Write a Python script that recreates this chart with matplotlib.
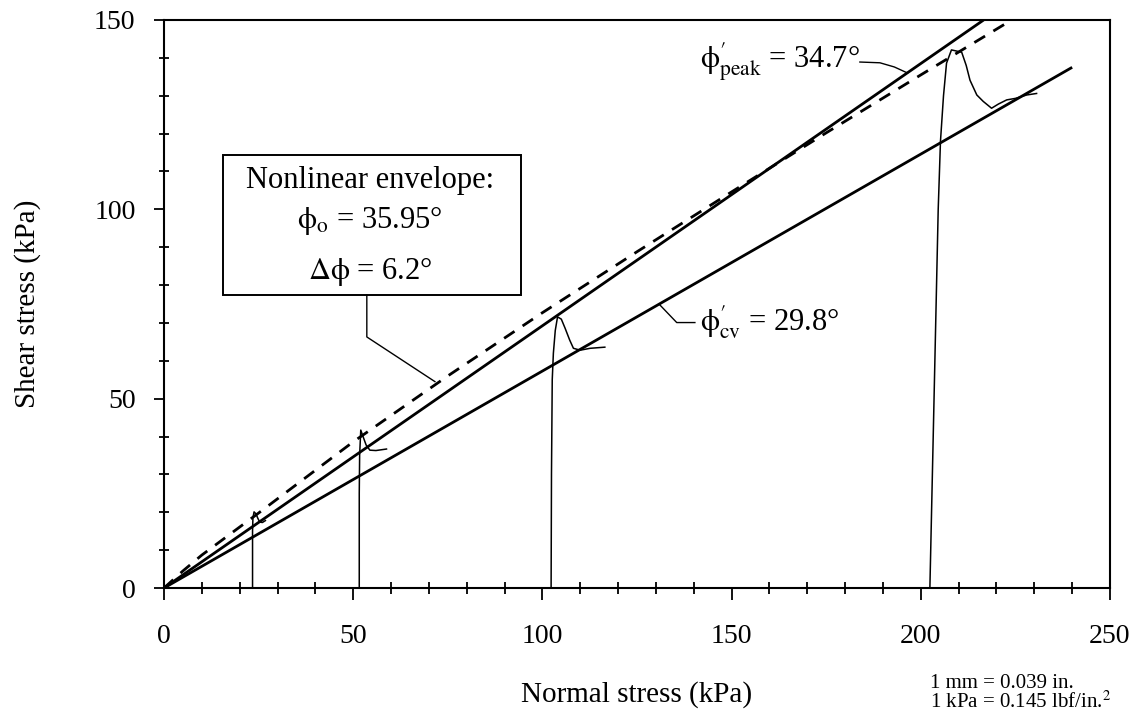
import matplotlib.pyplot as plt
import matplotlib.patches as mpatches
from matplotlib.ticker import MultipleLocator

plt.rcParams['font.family'] = ['Liberation Serif', 'DejaVu Serif']
plt.rcParams['mathtext.fontset'] = 'stix'

# envelopes (normal stress, shear stress) in kPa
peak_sigma = [0, 216.6]
peak_tau = [0, 150]
cv_sigma = [0, 240]
cv_tau = [0, 137.5]
nonlin_sigma = [0, 5, 10, 25, 50, 75, 100, 125, 150, 175, 200, 224.5]
nonlin_tau = [0, 4.5, 8.7, 19.8, 38.6, 56.0, 72.7, 88.8, 104.6, 120.2, 135.5, 150.3]

# stress paths of the four tests
test1_sigma = [23.4, 23.4, 23.5, 23.8, 24.3, 24.8, 25.3, 26.0, 26.8]
test1_tau = [0, 15, 18.5, 20.1, 19.6, 18.4, 17.4, 17.3, 17.8]
test2_sigma = [51.6, 51.6, 51.7, 52.0, 52.6, 53.4, 54.4, 56.0, 58.8]
test2_tau = [0, 25, 35, 41.7, 40.0, 37.8, 36.4, 36.3, 36.7]
test3_sigma = [102.3, 102.4, 102.6, 102.9, 103.4, 104.0, 105.0, 106.0, 107.2,
               108.2, 110.0, 112.6, 116.5]
test3_tau = [0, 30, 55, 62, 68, 71.6, 71.0, 68.6, 65.5, 63.3, 62.8, 63.3, 63.6]
test4_sigma = [202.4, 203.5, 204.6, 205.2, 206.0, 206.8, 208.1, 210.8, 212.0,
               213.0, 214.8, 216.5, 218.7, 220.5, 222.7, 225.0, 228.0, 230.6]
test4_tau = [0, 50, 100, 118, 130, 138.6, 142.1, 141.5, 138.0, 134.1, 130.2,
             128.5, 126.7, 127.8, 128.9, 129.3, 130.2, 130.6]

fig = plt.figure(figsize=(11.41, 7.15), dpi=100)
ax = fig.add_axes([164 / 1141, 1 - 588 / 715, 946 / 1141, 568 / 715])

ax.plot(peak_sigma, peak_tau, color='black', lw=2.0, solid_capstyle='butt')
ax.plot(cv_sigma, cv_tau, color='black', lw=2.0, solid_capstyle='butt')
ax.plot(nonlin_sigma, nonlin_tau, color='black', lw=2.0, dashes=(4.5, 3.5))

for s, t in [(test1_sigma, test1_tau), (test2_sigma, test2_tau),
             (test3_sigma, test3_tau), (test4_sigma, test4_tau)]:
    ax.plot(s, t, color='black', lw=1.1)

ax.set_xlim(0, 250)
ax.set_ylim(0, 150)

ax.xaxis.set_major_locator(MultipleLocator(50))
ax.xaxis.set_minor_locator(MultipleLocator(10))
ax.yaxis.set_major_locator(MultipleLocator(50))
ax.yaxis.set_minor_locator(MultipleLocator(10))
ax.tick_params(axis='x', which='major', direction='out', length=8.8, width=1.3,
               pad=17, labelsize=20)
ax.tick_params(axis='x', which='minor', direction='inout', length=8.5, width=1.3)
ax.tick_params(axis='y', which='major', direction='out', length=7.5, width=1.3,
               pad=13, labelsize=20)
ax.tick_params(axis='y', which='minor', direction='inout', length=7.5, width=1.3)
for sp in ax.spines.values():
    sp.set_linewidth(1.5)

ax.set_xlabel('Normal stress (kPa)', fontsize=21)
ax.xaxis.set_label_coords(0.5, -0.188)
ax.xaxis.label.set_verticalalignment('center')
ax.set_ylabel('Shear stress (kPa)', fontsize=21)
ax.yaxis.set_label_coords(-136 / 946, 0.5)
ax.yaxis.label.set_verticalalignment('center')

# annotation box for nonlinear envelope
box = mpatches.Rectangle((15.6, 77.4), 78.8, 36.9, fill=False,
                         edgecolor='black', lw=1.4, clip_on=False)
ax.add_patch(box)
ax.text(54.4, 107.7, 'Nonlinear envelope:', fontsize=22, ha='center', va='center')
ax.text(54.4, 97.0, r'$\mathrm{\phi}_{\mathrm{o}}$ = 35.95°', fontsize=22,
        ha='center', va='center')
ax.text(54.4, 83.5, r'$\Delta\mathrm{\phi}$ = 6.2°', fontsize=22,
        ha='center', va='center')
ax.plot([53.6, 53.6, 71.6], [77.4, 66.3, 54.5], color='black', lw=1.0)

# peak and critical state labels
ax.text(141.6, 138.9, r"$\mathrm{\phi}^{\prime}_{\mathrm{peak}}$ = 34.7°", fontsize=22,
        ha='left', va='center')
ax.plot([183.9, 189.2, 193.0, 196.5], [138.9, 138.7, 137.6, 136.0],
        color='black', lw=1.0)
ax.text(141.6, 70.2, r"$\mathrm{\phi}^{\prime}_{\mathrm{cv}}$ = 29.8°", fontsize=22,
        ha='left', va='center')
ax.plot([131.0, 135.5, 140.3], [74.8, 70.1, 70.1], color='black', lw=1.0)

fig.text(930 / 1141, 1 - 684 / 715, '1 mm = 0.039 in.', fontsize=15,
         ha='left', va='center')
fig.text(930 / 1141, 1 - 702 / 715, r'1 kPa = 0.145 lbf/in.$^2$', fontsize=15,
         ha='left', va='center')

fig.savefig('out.png', dpi=100)
